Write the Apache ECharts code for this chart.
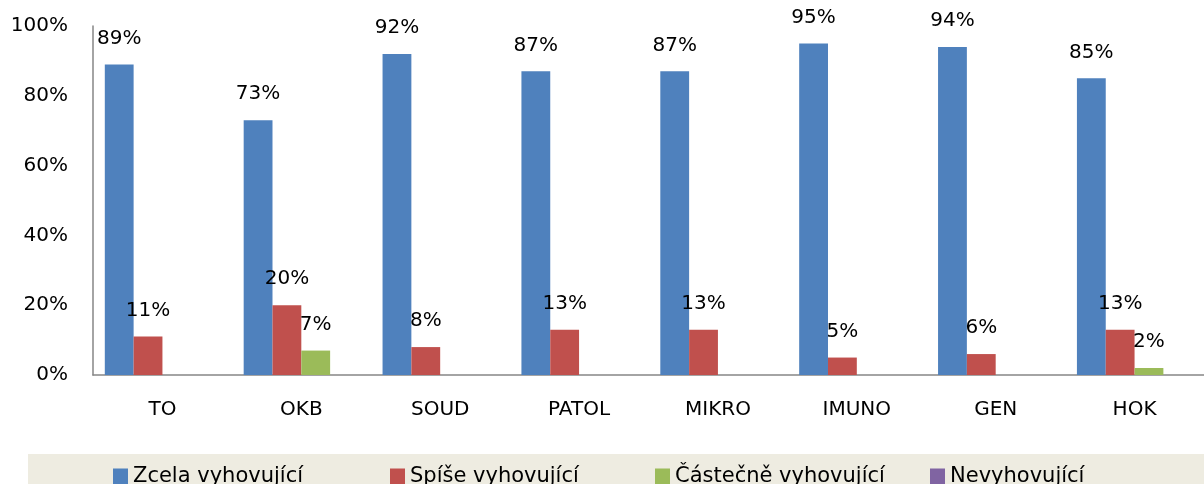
<!DOCTYPE html>
<html>
<head>
<meta charset="utf-8">
<script src="https://cdn.jsdelivr.net/npm/echarts@6/dist/echarts.min.js"></script>
<style>html,body{margin:0;padding:0;background:#fff}#c{width:1204px;height:484px}</style>
</head>
<body>
<div id="c"></div>
<script>
const categories = ['TO', 'OKB', 'SOUD', 'PATOL', 'MIKRO', 'IMUNO', 'GEN', 'HOK'];
const seriesNames = ['Zcela vyhovující', 'Spíše vyhovující', 'Částečně vyhovující', 'Nevyhovující'];
const zcela = [89, 73, 92, 87, 87, 95, 94, 85];
const spise = [11, 20, 8, 13, 13, 5, 6, 13];
const castecne = [0, 7, 0, 0, 0, 0, 0, 2];
const nevyhovujici = [0, 0, 0, 0, 0, 0, 0, 0];
const yTicks = [0, 20, 40, 60, 80, 100];
const colors = ['#4F81BD', '#C0504D', '#9BBB59', '#8064A2'];

const FONT = 'DejaVu Sans';
const allData = [zcela, spise, castecne, nevyhovujici];
const legendLefts = [113, 390, 655, 930];

const chart = echarts.init(document.getElementById('c'), null, {renderer: 'canvas'});
chart.setOption({
  animation: false,
  backgroundColor: '#ffffff',
  graphic: [{
    type: 'rect', left: 28, top: 454, z: -1,
    shape: {width: 1176, height: 30},
    style: {fill: '#EEECE1'}
  }],
  legend: seriesNames.map((n, i) => ({
    data: [n], left: legendLefts[i], top: 466, padding: 0,
    itemWidth: 15, itemHeight: 16, itemGap: 0,
    icon: 'rect',
    textStyle: {fontFamily: FONT, fontSize: 21, color: '#000'}
  })),
  grid: {left: 93, right: -11, top: 26, bottom: 109, containLabel: false},
  xAxis: {
    type: 'category', data: categories,
    axisLine: {show: true, lineStyle: {color: '#868686', width: 1.5}},
    axisTick: {show: false},
    axisLabel: {fontFamily: FONT, fontSize: 20, color: '#000', margin: 25}
  },
  yAxis: {
    type: 'value', min: yTicks[0], max: yTicks[yTicks.length - 1], interval: 20,
    axisLine: {show: true, lineStyle: {color: '#868686', width: 1.5}},
    axisTick: {show: false},
    splitLine: {show: false},
    axisLabel: {fontFamily: FONT, fontSize: 20, color: '#000', margin: 25, formatter: v => v + '%'}
  },
  series: seriesNames.map((n, i) => ({
    name: n, type: 'bar', data: allData[i],
    barGap: '0%', barCategoryGap: '17%',
    itemStyle: {color: colors[i]},
    label: {
      show: true, position: 'top', distance: 16,
      fontFamily: FONT, fontSize: 20, color: '#000',
      formatter: p => p.value ? p.value + '%' : ''
    }
  }))
});
</script>
</body>
</html>
